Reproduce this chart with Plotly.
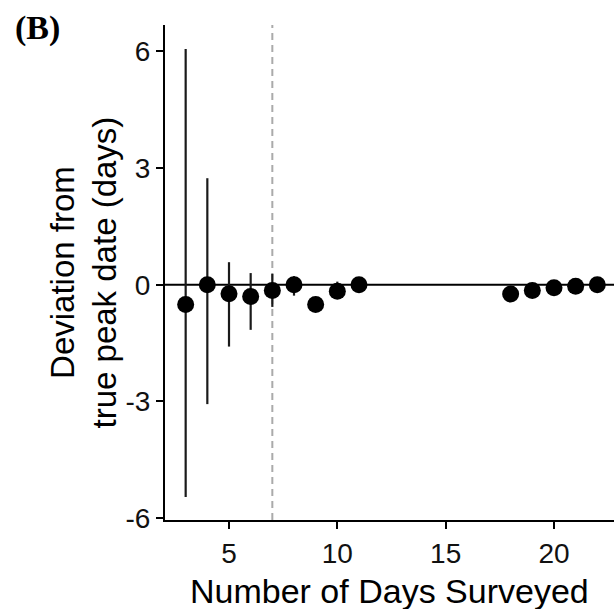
import plotly.graph_objects as go

# Data
days = [3, 4, 5, 6, 7, 8, 9, 10, 11, 18, 19, 20, 21, 22]
deviation = [-0.51, 0.0, -0.23, -0.30, -0.15, 0.0, -0.51, -0.17, 0.0, -0.24, -0.15, -0.08, -0.04, 0.0]
upper = [6.06, 2.74, 0.58, 0.30, 0.28, 0.22, -0.51, 0.08, 0.0, -0.24, -0.15, -0.08, -0.04, 0.0]
lower = [-5.46, -3.07, -1.59, -1.16, -0.57, -0.28, -0.51, -0.35, 0.0, -0.24, -0.15, -0.08, -0.04, 0.0]
cutoff_day = 7
x_ticks = [5, 10, 15, 20]
y_ticks = [-6, -3, 0, 3, 6]
y_tick_labels = ["-6", "-3", "0", "3", "6"]

err_plus = [u - m for u, m in zip(upper, deviation)]
err_minus = [m - l for l, m in zip(lower, deviation)]

FONT = "Liberation Sans, Arial, Helvetica, sans-serif"

fig = go.Figure()
fig.add_trace(go.Scatter(
    x=days, y=deviation, mode="markers",
    marker=dict(color="black", size=17, line=dict(width=0)),
    error_y=dict(type="data", symmetric=False, array=err_plus, arrayminus=err_minus,
                 color="#1a1a1a", thickness=2.2, width=0),
    showlegend=False, cliponaxis=False,
))

fig.add_shape(type="line", xref="paper", x0=0, x1=1, yref="y", y0=0, y1=0,
              line=dict(color="black", width=2), layer="below")
fig.add_shape(type="line", xref="x", x0=cutoff_day, x1=cutoff_day, yref="paper", y0=0, y1=1,
              line=dict(color="#aaaaaa", width=2, dash="7px,5px"), layer="below")

fig.update_layout(
    width=614, height=609,
    margin=dict(l=165, r=0, t=25, b=89),
    plot_bgcolor="white", paper_bgcolor="white",
    font=dict(family=FONT, color="black"),
    xaxis=dict(range=[2.046, 22.77], tickvals=x_ticks, showgrid=False, zeroline=False,
               showline=True, linecolor="black", linewidth=2,
               ticks="outside", ticklen=7, tickwidth=2, tickcolor="black",
               tickfont=dict(size=28, family=FONT, color="#111111")),
    yaxis=dict(range=[-6.05, 6.68], tickvals=y_ticks, ticktext=y_tick_labels,
               showgrid=False, zeroline=False,
               showline=True, linecolor="black", linewidth=2,
               ticks="outside", ticklen=7, tickwidth=2, tickcolor="black",
               tickfont=dict(size=28, family=FONT, color="#111111")),
    annotations=[
        dict(text="Number of Days Surveyed", xref="paper", yref="paper", x=0.5, y=0,
             xanchor="center", yanchor="middle", yshift=-71, showarrow=False,
             font=dict(size=34, family=FONT, color="black")),
        dict(text="Deviation from<br>true peak date (days)", xref="paper", yref="paper",
             x=0, y=0.5, xanchor="center", yanchor="middle", xshift=-82, textangle=-90,
             showarrow=False, font=dict(size=33, family=FONT, color="black")),
        dict(text="<b>(B)</b>", xref="paper", yref="paper", x=0, y=1, xanchor="left",
             yanchor="middle", xshift=-152, yshift=-3, showarrow=False,
             font=dict(size=34, family="Liberation Serif, Times New Roman, serif", color="black")),
    ],
)

fig.write_html("out.html")
